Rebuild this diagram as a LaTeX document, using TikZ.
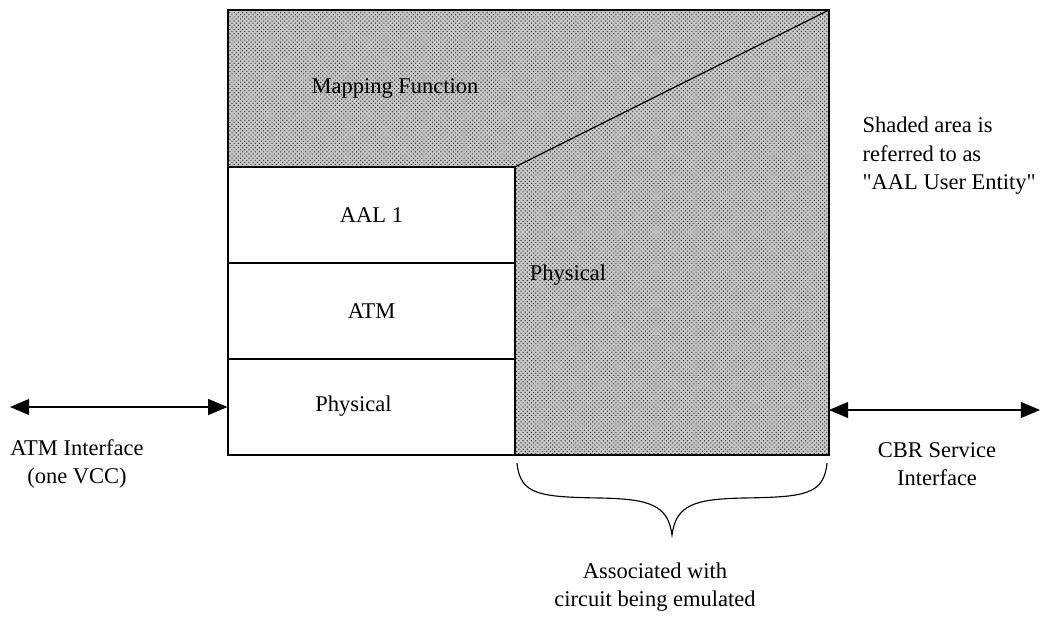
\documentclass[tikz,border=0pt]{standalone}
\usepackage{fontspec}
\setmainfont{Liberation Serif}[Ligatures=TeXOff]
\usetikzlibrary{arrows.meta,patterns,calc}

\begin{document}
\begin{tikzpicture}[x=0.025cm,y=-0.025cm,line width=0.8pt,
  >={Triangle[length=4.8mm,width=4mm]},
  layer box/.style={rectangle,draw,fill=white,minimum width=7.175cm,
    minimum height=2.4cm,inner sep=0pt,font=\fontsize{16}{20}\selectfont},
  label text/.style={font=\fontsize{16}{20.2}\selectfont,align=center,inner sep=0pt},
  shaded/.style={fill=black!22,postaction={pattern=crosshatch dots,pattern color=black!80}}]

\useasboundingbox (0,0) rectangle (1042,618);

% shaded area (AAL user entity)
\coordinate (TL) at (228,10);
\coordinate (TR) at (829,10);
\coordinate (BR) at (829,455);
\coordinate (K) at (515,167);
\fill[shaded] (TL) -- (TR) -- (BR) -- (515,455) -- (K) -- (228,167) -- cycle;
\draw (TL) rectangle (BR);
\draw (K) -- (TR);

% layer stack
\node[layer box](AAL) at (371.5,215) {AAL 1};
\node[layer box](ATM) at (371.5,311) {ATM};
\node[layer box](PHY) at (371.5,407) {\hspace*{-0.9cm}\raisebox{0.15cm}{Physical}};

\node[label text](MAP) at (395,88) {Mapping Function};
\node[label text](PHR) at (568,275) {Physical};
\node[label text,align=left,anchor=west](NOTE) at (862,156)
  {Shaded area is\\referred to as\\"AAL User Entity"};

% interfaces
\coordinate (LE) at (10,407);
\coordinate (RB) at (829,410);
\coordinate (RE) at (1040,410);
\draw[<->] (LE) -- (PHY.west);
\draw[<->] (RB) -- (RE);
\node[label text](ATMI) at (77,464) {ATM Interface\\(one VCC)};
\node[label text](CBR) at (937,464) {CBR Service\\Interface};

% brace
\coordinate (BL) at (517,463);
\coordinate (BT) at (672,535);
\coordinate (BRR) at (827,463);
\draw (BL) .. controls (520,495) and (540,497) .. (600,498)
  .. controls (650,499) and (668,505) .. (BT)
  .. controls (676,505) and (694,499) .. (744,498)
  .. controls (804,497) and (824,495) .. (BRR);
\node[label text](ASSOC) at (655,587) {Associated with\\circuit being emulated};

\end{tikzpicture}
\end{document}
